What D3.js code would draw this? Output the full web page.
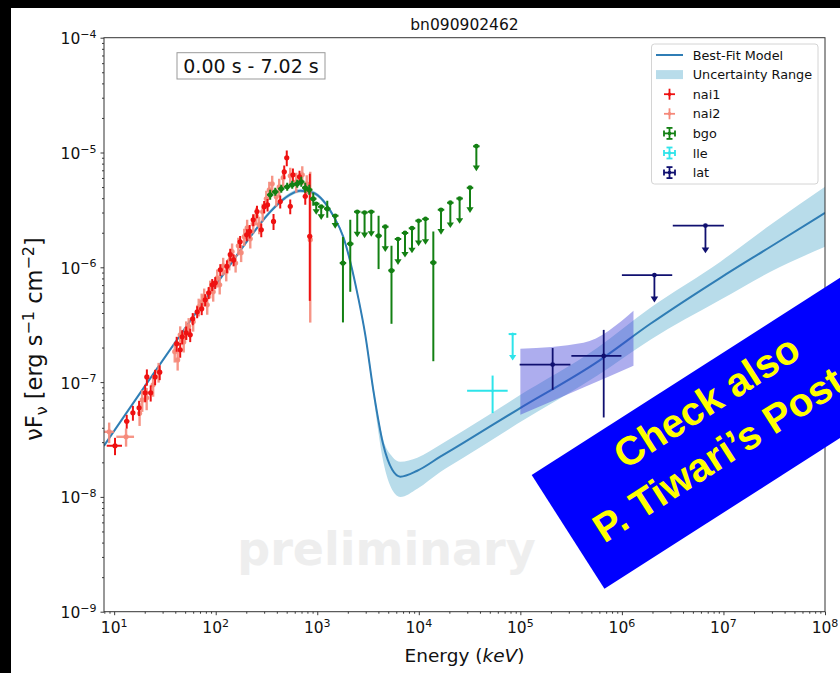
<!DOCTYPE html>
<html>
<head>
<meta charset="utf-8">
<script src="https://cdn.jsdelivr.net/npm/d3@7"></script>
<style>
  html, body { margin: 0; padding: 0; background: #000; }
  svg { display: block; }
</style>
</head>
<body>
<svg id="chart" width="840" height="673"></svg>
<script>
// ---------------- data ----------------
const title = "bn090902462";
const timeInterval = "0.00 s - 7.02 s";

// axis ticks (decades)
const xMajorTicks = [1e1, 1e2, 1e3, 1e4, 1e5, 1e6, 1e7, 1e8];
const yMajorTicks = [1e-9, 1e-8, 1e-7, 1e-6, 1e-5, 1e-4];

// best-fit model: energy (keV) and nuFnu (erg s^-1 cm^-2)
const modelEnergy = [7.94, 70.4, 124, 219, 344, 484, 680, 913, 1146, 1438, 1804, 2114, 2535, 2971,
  3562, 4469, 5481, 6572, 9665, 1.628e4, 2.744e4, 9.34e4, 5.735e5, 1.909e6, 9.34e6, 2.905e7, 1e8];
const modelFlux = [2.79e-8, 4.53e-7, 9.14e-7, 1.84e-6, 3.04e-6, 4.03e-6, 4.64e-6, 4.46e-6, 3.80e-6,
  2.81e-6, 1.84e-6, 1.12e-6, 5.42e-7, 2.58e-7, 8.57e-8, 2.84e-8, 1.72e-8, 1.50e-8, 1.69e-8,
  2.24e-8, 2.96e-8, 5.74e-8, 1.50e-7, 3.22e-7, 8.10e-7, 1.51e-6, 2.98e-6];
// uncertainty range of the model, same energies
const bandUpper = [2.90e-8, 4.71e-7, 9.51e-7, 1.92e-6, 3.17e-6, 4.20e-6, 4.83e-6, 4.64e-6, 3.95e-6,
  2.92e-6, 1.92e-6, 1.17e-6, 5.70e-7, 2.74e-7, 9.29e-8, 3.14e-8, 2.24e-8, 2.02e-8, 2.19e-8,
  2.84e-8, 3.76e-8, 7.45e-8, 1.99e-7, 4.44e-7, 1.12e-6, 2.35e-6, 5.03e-6];
const bandLower = [2.68e-8, 4.35e-7, 8.78e-7, 1.77e-6, 2.92e-6, 3.87e-6, 4.46e-6, 4.28e-6, 3.65e-6,
  2.70e-6, 1.77e-6, 1.06e-6, 5.16e-7, 2.43e-7, 7.60e-8, 2.02e-8, 1.15e-8, 1.00e-8, 1.18e-8,
  1.65e-8, 2.19e-8, 4.33e-8, 1.14e-7, 2.34e-7, 5.21e-7, 9.14e-7, 1.51e-6];

// NaI detectors: [E, dE, nuFnu, err (low), err (high, if different)]
const nai1 = [
  [10.2, 1.75, 2.79e-8, 0.48e-8], [13.3, 0.77, 4.56e-8, 0.63e-8], [15.3, 0.70, 5.41e-8, 0.8e-8],
  [17.6, 0.81, 5.97e-8, 0.9e-8], [20.2, 0.93, 8.07e-8, 1.4e-8], [21.0, 0.97, 1.11e-7, 1.8e-8],
  [22.9, 1.05, 8.07e-8, 1.3e-8], [25.3, 1.17, 1.11e-7, 1.7e-8], [28.1, 1.29, 1.22e-7, 1.8e-8],
  [41.3, 1.9, 2.16e-7, 3.2e-8], [44.7, 2.06, 1.91e-7, 2.8e-8], [46.8, 2.15, 2.48e-7, 3.5e-8],
  [51.2, 2.36, 2.69e-7, 3.6e-8], [56.1, 2.58, 2.58e-7, 3.5e-8], [59.4, 2.73, 3.56e-7, 4.3e-8],
  [65.7, 3.0, 4.09e-7, 4.9e-8], [72.8, 3.35, 4.35e-7, 5.2e-8], [78.8, 3.6, 5.21e-7, 6.2e-8],
  [85.3, 3.9, 6.0e-7, 7.2e-8], [92.4, 4.2, 7.05e-7, 8.5e-8], [98.9, 4.5, 7.33e-7, 8.8e-8],
  [111, 5.1, 9.51e-7, 1.14e-7], [129, 5.9, 1.02e-6, 1.3e-7], [139, 6.4, 1.29e-6, 1.6e-7],
  [150, 6.9, 1.16e-6, 1.4e-7], [174, 8.0, 1.67e-6, 2.0e-7], [202, 9.3, 1.92e-6, 2.3e-7],
  [216, 10, 2.06e-6, 2.8e-7], [234, 10.8, 2.59e-6, 3.1e-7], [255, 11.7, 3.06e-6, 3.8e-7],
  [281, 12.9, 2.12e-6, 2.9e-7], [300, 13.8, 3.37e-6, 4.1e-7], [324, 14.9, 3.50e-6, 4.3e-7],
  [371, 17, 2.51e-6, 4.0e-7], [432, 20, 3.74e-6, 4.8e-7], [473, 21.8, 6.79e-6, 9e-7],
  [501, 23, 8.99e-6, 1.4e-6], [542, 25, 3.40e-6, 5.0e-7], [576, 26.5, 6.40e-6, 8.5e-7],
  [669, 31, 6.14e-6, 8e-7], [762, 35, 4.15e-6, 6.5e-7], [844, 39, 1.86e-6, 1.35e-6, 4.66e-6]
];
const nai2 = [
  [8.93, 1.0, 3.69e-8, 0.75e-8], [13.1, 2.6, 3.34e-8, 0.6e-8], [17.8, 0.82, 5.35e-8, 1.2e-8],
  [18.9, 0.87, 7.0e-8, 1.5e-8], [20.9, 0.96, 7.29e-8, 1.6e-8], [24.2, 1.1, 9.46e-8, 2.0e-8],
  [27.4, 1.26, 1.23e-7, 2.4e-8], [39.5, 1.8, 1.84e-7, 3.6e-8], [42.2, 1.94, 1.56e-7, 3.0e-8],
  [44.7, 2.06, 2.58e-7, 4.8e-8], [48.4, 2.2, 2.24e-7, 4.3e-8], [51.2, 2.36, 2.85e-7, 5.3e-8],
  [54.2, 2.5, 3.06e-7, 5.5e-8], [60.0, 2.76, 3.35e-7, 6.0e-8], [68.0, 3.1, 4.53e-7, 8.0e-8],
  [72.8, 3.35, 5.0e-7, 9e-8], [77.0, 3.5, 5.53e-7, 1.0e-7], [82.5, 3.8, 4.71e-7, 8.5e-8],
  [88.3, 4.1, 6.50e-7, 1.15e-7], [94.5, 4.3, 6.12e-7, 1.1e-7], [103.5, 4.8, 8.11e-7, 1.45e-7],
  [109.5, 5.0, 7.05e-7, 1.25e-7], [118.5, 5.5, 1.03e-6, 1.8e-7], [127, 5.8, 9.14e-7, 1.6e-7],
  [136, 6.2, 1.14e-6, 2.0e-7], [145, 6.7, 1.37e-6, 2.4e-7], [157, 7.2, 1.09e-6, 1.9e-7],
  [167, 7.7, 1.54e-6, 2.7e-7], [178, 8.2, 1.34e-6, 2.3e-7], [191, 8.8, 1.85e-6, 3.2e-7],
  [204, 9.4, 2.21e-6, 3.9e-7], [219, 10, 1.77e-6, 3.1e-7], [234, 10.8, 2.39e-6, 4.2e-7],
  [251, 11.5, 2.81e-6, 4.9e-7], [268, 12.3, 2.35e-6, 4.1e-7], [290, 13.4, 3.04e-6, 5.3e-7],
  [315, 14.5, 3.95e-6, 6.9e-7], [337, 15.5, 4.73e-6, 8.3e-7], [360, 16.6, 5.33e-6, 9.3e-7],
  [395, 18, 4.11e-6, 7.2e-7], [422, 19.4, 5.02e-6, 8.8e-7], [462, 21, 6.03e-6, 1.05e-6],
  [542, 25, 6.27e-6, 1.1e-6], [621, 28.6, 5.55e-6, 1.1e-6], [712, 33, 6.40e-6, 1.2e-6],
  [788, 36, 5.33e-6, 1.0e-6], [853, 39, 1.74e-6, 1.41e-6, 5.05e-6]
];

// BGO: detections [E, nuFnu, low, high] and upper limits [E, limit, arrow end]
const bgoBinHalfDex = 0.032;
const bgoData = [
  [344, 4.28e-6, 3.87e-6, 4.73e-6], [386, 4.55e-6, 4.20e-6, 4.93e-6], [442, 4.83e-6, 4.46e-6, 5.23e-6],
  [506, 5.03e-6, 4.64e-6, 5.45e-6], [567, 5.23e-6, 4.83e-6, 5.67e-6], [635, 5.34e-6, 4.93e-6, 5.78e-6],
  [696, 5.56e-6, 5.03e-6, 6.14e-6], [762, 4.93e-6, 4.46e-6, 5.45e-6], [834, 4.73e-6, 4.28e-6, 5.23e-6],
  [913, 3.95e-6, 3.43e-6, 4.46e-6], [1255, 3.23e-6, 2.70e-6, 3.80e-6], [1791, 1.09e-6, 3.31e-7, 1.84e-6],
  [2114, 1.60e-6, 6.12e-7, 2.59e-6], [4017, 1.88e-6, 9.65e-7, 2.81e-6], [5383, 9.38e-7, 3.22e-7, 1.54e-6],
  [1.39e4, 1.10e-6, 1.52e-7, 2.05e-6]
];
const bgoUpperLimits = [
  [977, 3.57e-6, 2.92e-6], [1094, 3.37e-6, 2.64e-6], [1504, 2.81e-6, 2.21e-6], [2477, 3.04e-6, 1.86e-6],
  [2924, 3.00e-6, 1.83e-6], [3404, 3.04e-6, 1.88e-6], [4677, 2.26e-6, 1.39e-6], [6237, 1.76e-6, 1.07e-6],
  [7311, 1.99e-6, 1.24e-6], [8570, 2.19e-6, 1.35e-6], [9954, 2.54e-6, 1.56e-6], [1.164e4, 2.64e-6, 1.60e-6],
  [1.655e4, 3.17e-6, 1.96e-6], [2.044e4, 3.65e-6, 2.24e-6], [2.523e4, 3.97e-6, 2.44e-6],
  [3.193e4, 4.94e-6, 3.03e-6], [3.687e4, 1.135e-5, 7.00e-6]
];

// LLE: detection [E, Emin, Emax, nuFnu, low, high]; upper limit [E, Emin, Emax, limit, arrow end]
const lleData = [[5.33e4, 2.99e4, 7.50e4, 8.39e-8, 5.37e-8, 1.14e-7]];
const lleUpperLimits = [[8.40e4, 7.67e4, 9.14e4, 2.62e-7, 1.57e-7]];

// LAT
const latData = [
  [2.08e5, 9.84e4, 3.11e5, 1.42e-7, 8.57e-8, 1.98e-7],
  [6.62e5, 3.18e5, 9.89e5, 1.69e-7, 4.92e-8, 2.85e-7]
];
const latUpperLimits = [
  [2.09e6, 1.0e6, 3.13e6, 8.55e-7, 5.04e-7],
  [6.65e6, 3.17e6, 1.01e7, 2.31e-6, 1.35e-6]
];
// LAT likelihood butterfly
const latBandEnergy = [1e5, 4.18e5, 1.30e6];
const latBandUpper = [1.95e-7, 2.20e-7, 4.18e-7];
const latBandLower = [5.19e-8, 8.97e-8, 1.39e-7];

// ---------------- styles ----------------
const C = {
  model: "#2f7db5",
  band: "#b8dcea",
  nai1: "#ee1111",
  nai2: "#f5897a",
  bgo: "#138013",
  lle: "#2ee4ea",
  lat: "#101070",
  latBand: "rgba(60,60,215,0.42)"
};
const FONT = "'DejaVu Sans', sans-serif";

// ---------------- layout ----------------
const W = 840, H = 673;
const plot = { left: 104, right: 825, top: 37.7, bottom: 611.7 };

const x = d3.scaleLog().domain([Math.pow(10, 0.9), 1e8]).range([plot.left, plot.right]);
const y = d3.scaleLog().domain([1e-9, 1e-4]).range([plot.bottom, plot.top]);

const svg = d3.select("#chart");

// figure canvas
svg.append("rect").attr("width", W).attr("height", H).attr("fill", "#000");
svg.append("rect").attr("x", 11).attr("y", 8).attr("width", W - 11).attr("height", H - 8).attr("fill", "#fff");

svg.append("defs").append("clipPath").attr("id", "plot-clip")
  .append("rect")
  .attr("x", plot.left).attr("y", plot.top)
  .attr("width", plot.right - plot.left).attr("height", plot.bottom - plot.top);

// watermark
svg.append("text")
  .attr("x", 386.5).attr("y", 565)
  .attr("text-anchor", "middle")
  .attr("font-family", FONT).attr("font-weight", "bold").attr("font-size", 46)
  .attr("fill", "#eeeeee")
  .text("preliminary");

const gPlot = svg.append("g").attr("clip-path", "url(#plot-clip)");

// uncertainty range
const idx = d3.range(modelEnergy.length);
gPlot.append("path")
  .datum(idx)
  .attr("fill", C.band)
  .attr("d", d3.area()
    .x(i => x(modelEnergy[i]))
    .y0(i => y(bandLower[i]))
    .y1(i => y(bandUpper[i]))
    .curve(d3.curveMonotoneX));

// best-fit model
gPlot.append("path")
  .datum(idx)
  .attr("fill", "none")
  .attr("stroke", C.model)
  .attr("stroke-width", 2)
  .attr("d", d3.line()
    .x(i => x(modelEnergy[i]))
    .y(i => y(modelFlux[i]))
    .curve(d3.curveMonotoneX));

// LAT butterfly
const li = d3.range(latBandEnergy.length);
gPlot.append("path")
  .datum(li)
  .attr("fill", C.latBand)
  .attr("d", d3.area()
    .x(i => x(latBandEnergy[i]))
    .y0(i => y(latBandLower[i]))
    .y1(i => y(latBandUpper[i]))
    .curve(d3.curveMonotoneX));

const yFloor = 1e-12;
function clampY(v) { return y(Math.max(v, yFloor)); }

// generic cross-shaped error bar
function errorbar(g, p, color, sw, r, opacity) {
  const grp = g.append("g").attr("stroke", color).attr("stroke-width", sw)
    .attr("stroke-opacity", opacity).attr("fill", color).attr("fill-opacity", opacity);
  grp.append("line")
    .attr("x1", x(p.e)).attr("x2", x(p.e))
    .attr("y1", clampY(p.fHi)).attr("y2", clampY(p.fLo));
  grp.append("line")
    .attr("x1", x(p.eLo)).attr("x2", x(p.eHi))
    .attr("y1", y(p.f)).attr("y2", y(p.f));
  if (r > 0) grp.append("circle").attr("cx", x(p.e)).attr("cy", y(p.f)).attr("r", r).attr("stroke", "none");
}

// upper limit: bin bar, dot, stem and down arrow
function upperLimit(g, p, color, sw, r, head) {
  const grp = g.append("g").attr("stroke", color).attr("stroke-width", sw).attr("fill", color);
  const cx = x(p.e), cy = y(p.f), ty = y(p.tip);
  grp.append("line").attr("x1", x(p.eLo)).attr("x2", x(p.eHi)).attr("y1", cy).attr("y2", cy);
  grp.append("line").attr("x1", cx).attr("x2", cx).attr("y1", cy).attr("y2", ty - 2);
  grp.append("path").attr("stroke", "none")
    .attr("d", `M${cx - head},${ty - head * 1.3}L${cx + head},${ty - head * 1.3}L${cx},${ty + 1}Z`);
  if (r > 0) grp.append("circle").attr("cx", cx).attr("cy", cy).attr("r", r).attr("stroke", "none");
}

function naiPoint(d) {
  const lo = d[3], hi = d.length > 4 ? d[4] : d[3];
  return { e: d[0], eLo: d[0] - d[1], eHi: d[0] + d[1], f: d[2], fLo: d[2] - lo, fHi: d[2] + hi };
}

// NaI
const gNai2 = gPlot.append("g");
nai2.forEach(d => errorbar(gNai2, naiPoint(d), C.nai2, 2.4, 2.6, 0.9));
const gNai1 = gPlot.append("g");
nai1.forEach(d => errorbar(gNai1, naiPoint(d), C.nai1, 2, 2.6, 1));

// BGO
const bgoFactor = Math.pow(10, bgoBinHalfDex);
const gBgo = gPlot.append("g");
bgoData.forEach(d => errorbar(gBgo,
  { e: d[0], eLo: d[0] / bgoFactor, eHi: d[0] * bgoFactor, f: d[1], fLo: d[2], fHi: d[3] },
  C.bgo, 2, 2.6, 1));
bgoUpperLimits.forEach(d => upperLimit(gBgo,
  { e: d[0], eLo: d[0] / bgoFactor, eHi: d[0] * bgoFactor, f: d[1], tip: d[2] },
  C.bgo, 2, 2.4, 3.6));

// LLE
const gLle = gPlot.append("g");
lleData.forEach(d => errorbar(gLle,
  { e: d[0], eLo: d[1], eHi: d[2], f: d[3], fLo: d[4], fHi: d[5] }, C.lle, 2, 1.2, 1));
lleUpperLimits.forEach(d => upperLimit(gLle,
  { e: d[0], eLo: d[1], eHi: d[2], f: d[3], tip: d[4] }, C.lle, 2, 1.5, 3.6));

// LAT
const gLat = gPlot.append("g");
latData.forEach(d => errorbar(gLat,
  { e: d[0], eLo: d[1], eHi: d[2], f: d[3], fLo: d[4], fHi: d[5] }, C.lat, 1.8, 2.4, 1));
latUpperLimits.forEach(d => upperLimit(gLat,
  { e: d[0], eLo: d[1], eHi: d[2], f: d[3], tip: d[4] }, C.lat, 1.8, 2.4, 3.8));

// ---------------- axes ----------------
function minorTicks(lo, hi) {
  const out = [];
  for (let p = Math.floor(Math.log10(lo)); p <= Math.ceil(Math.log10(hi)); p++) {
    for (let m = 2; m <= 9; m++) {
      const v = m * Math.pow(10, p);
      if (v >= lo && v <= hi) out.push(v);
    }
  }
  return out;
}
const [xd0, xd1] = x.domain();
const [yd0, yd1] = y.domain();

function styleAxis(g) {
  g.select(".domain").remove();
  g.selectAll(".tick line").attr("stroke", "#222").attr("stroke-width", 0.9);
  g.selectAll(".tick text").remove();
}

const gx = svg.append("g").attr("transform", `translate(0,${plot.bottom})`);
gx.append("g").call(d3.axisBottom(x).tickValues(xMajorTicks).tickSize(3.5)).call(styleAxis);
gx.append("g").call(d3.axisBottom(x).tickValues(minorTicks(xd0, xd1)).tickSize(2)).call(styleAxis);

const gy = svg.append("g").attr("transform", `translate(${plot.left},0)`);
gy.append("g").call(d3.axisLeft(y).tickValues(yMajorTicks).tickSize(3.5)).call(styleAxis);
gy.append("g").call(d3.axisLeft(y).tickValues(minorTicks(yd0, yd1)).tickSize(2)).call(styleAxis);

function expOf(v) {
  const e = Math.round(Math.log10(v));
  return (e < 0 ? "\u2212" : "") + Math.abs(e);
}

xMajorTicks.forEach(v => {
  const t = svg.append("text")
    .attr("x", x(v)).attr("y", 633.3)
    .attr("text-anchor", "middle")
    .attr("font-family", FONT).attr("font-size", 15.5).attr("fill", "#111");
  t.append("tspan").text("10");
  t.append("tspan").attr("font-size", 11).attr("dy", -6.5).text(expOf(v));
});
yMajorTicks.forEach(v => {
  const t = svg.append("text")
    .attr("x", 96.5).attr("y", y(v) + 6.5)
    .attr("text-anchor", "end")
    .attr("font-family", FONT).attr("font-size", 15.5).attr("fill", "#111");
  t.append("tspan").text("10");
  t.append("tspan").attr("font-size", 11).attr("dy", -6.5).text(expOf(v));
});

// frame
svg.append("rect")
  .attr("x", plot.left).attr("y", plot.top)
  .attr("width", plot.right - plot.left).attr("height", plot.bottom - plot.top)
  .attr("fill", "none").attr("stroke", "#333").attr("stroke-width", 1);

// title and axis labels
svg.append("text")
  .attr("x", (plot.left + plot.right) / 2).attr("y", 30)
  .attr("text-anchor", "middle")
  .attr("font-family", FONT).attr("font-size", 15.5).attr("fill", "#111")
  .text(title);

const xl = svg.append("text")
  .attr("x", (plot.left + plot.right) / 2).attr("y", 662)
  .attr("text-anchor", "middle")
  .attr("font-family", FONT).attr("font-size", 18.5).attr("fill", "#111");
xl.append("tspan").text("Energy (");
xl.append("tspan").attr("font-style", "italic").text("keV");
xl.append("tspan").text(")");

const yl = svg.append("text")
  .attr("transform", `translate(42,339) rotate(-90)`)
  .attr("text-anchor", "middle")
  .attr("font-family", FONT).attr("font-size", 22.5).attr("fill", "#111");
yl.append("tspan").text("\u03BDF");
yl.append("tspan").attr("font-size", 16).attr("dy", 4.5).text("\u03BD");
yl.append("tspan").attr("dy", -4.5).text(" [erg s");
yl.append("tspan").attr("font-size", 16).attr("dy", -8.5).text("\u22121");
yl.append("tspan").attr("dy", 8.5).text(" cm");
yl.append("tspan").attr("font-size", 16).attr("dy", -8.5).text("\u22122");
yl.append("tspan").attr("dy", 8.5).text("]");

// time interval box
svg.append("rect")
  .attr("x", 177).attr("y", 52.7).attr("width", 148).attr("height", 26.3)
  .attr("fill", "#fff").attr("stroke", "#999").attr("stroke-width", 1);
svg.append("text")
  .attr("x", 251).attr("y", 72.5)
  .attr("text-anchor", "middle")
  .attr("font-family", FONT).attr("font-size", 19).attr("fill", "#111")
  .text(timeInterval);

// ---------------- legend ----------------
const legendItems = [
  { label: "Best-Fit Model", kind: "line", color: C.model },
  { label: "Uncertainty Range", kind: "patch", color: C.band },
  { label: "nai1", kind: "err", color: C.nai1, caps: false },
  { label: "nai2", kind: "err", color: C.nai2, caps: false },
  { label: "bgo", kind: "err", color: C.bgo, caps: true },
  { label: "lle", kind: "err", color: C.lle, caps: true },
  { label: "lat", kind: "err", color: C.lat, caps: true }
];
const gl = svg.append("g");
gl.append("rect")
  .attr("x", 651.5).attr("y", 44).attr("width", 166.5).attr("height", 140).attr("rx", 3)
  .attr("fill", "#fff").attr("fill-opacity", 0.85)
  .attr("stroke", "#d4d4d4").attr("stroke-width", 1);
legendItems.forEach((it, i) => {
  const cy = 55 + i * 19.6, hx = 669.5;
  const g = gl.append("g");
  if (it.kind === "line") {
    g.append("line").attr("x1", 656).attr("x2", 683).attr("y1", cy).attr("y2", cy)
      .attr("stroke", it.color).attr("stroke-width", 2);
  } else if (it.kind === "patch") {
    g.append("rect").attr("x", 656).attr("y", cy - 4.5).attr("width", 27).attr("height", 9)
      .attr("fill", it.color);
  } else {
    const s = g.append("g").attr("stroke", it.color).attr("stroke-width", 1.8).attr("fill", it.color);
    s.append("line").attr("x1", hx).attr("x2", hx).attr("y1", cy - 5.5).attr("y2", cy + 5.5);
    s.append("line").attr("x1", hx - 5.5).attr("x2", hx + 5.5).attr("y1", cy).attr("y2", cy);
    if (it.caps) {
      s.append("line").attr("x1", hx - 3).attr("x2", hx + 3).attr("y1", cy - 5.5).attr("y2", cy - 5.5);
      s.append("line").attr("x1", hx - 3).attr("x2", hx + 3).attr("y1", cy + 5.5).attr("y2", cy + 5.5);
      s.append("line").attr("x1", hx - 5.5).attr("x2", hx - 5.5).attr("y1", cy - 3).attr("y2", cy + 3);
      s.append("line").attr("x1", hx + 5.5).attr("x2", hx + 5.5).attr("y1", cy - 3).attr("y2", cy + 3);
    }
    s.append("circle").attr("cx", hx).attr("cy", cy).attr("r", 1.8).attr("stroke", "none");
  }
  g.append("text").attr("x", 692.7).attr("y", cy + 4.6)
    .attr("font-family", FONT).attr("font-size", 12.8).attr("fill", "#111")
    .text(it.label);
});

// ---------------- poster note ----------------
const note = svg.append("g").attr("transform", "translate(531.7,475) rotate(-32.6)");
note.append("rect").attr("x", 0).attr("y", 0).attr("width", 560).attr("height", 135).attr("fill", "#0000ff");
note.append("text").attr("x", 187).attr("y", 46)
  .attr("text-anchor", "middle")
  .attr("font-family", "'Liberation Sans', Arial, sans-serif").attr("font-weight", "bold")
  .attr("font-size", 40).attr("fill", "#ffff00")
  .text("Check also");
note.append("text").attr("x", 187).attr("y", 97)
  .attr("text-anchor", "middle")
  .attr("font-family", "'Liberation Sans', Arial, sans-serif").attr("font-weight", "bold")
  .attr("font-size", 40).attr("fill", "#ffff00")
  .text("P. Tiwari\u2019s Poster");
</script>
</body>
</html>
